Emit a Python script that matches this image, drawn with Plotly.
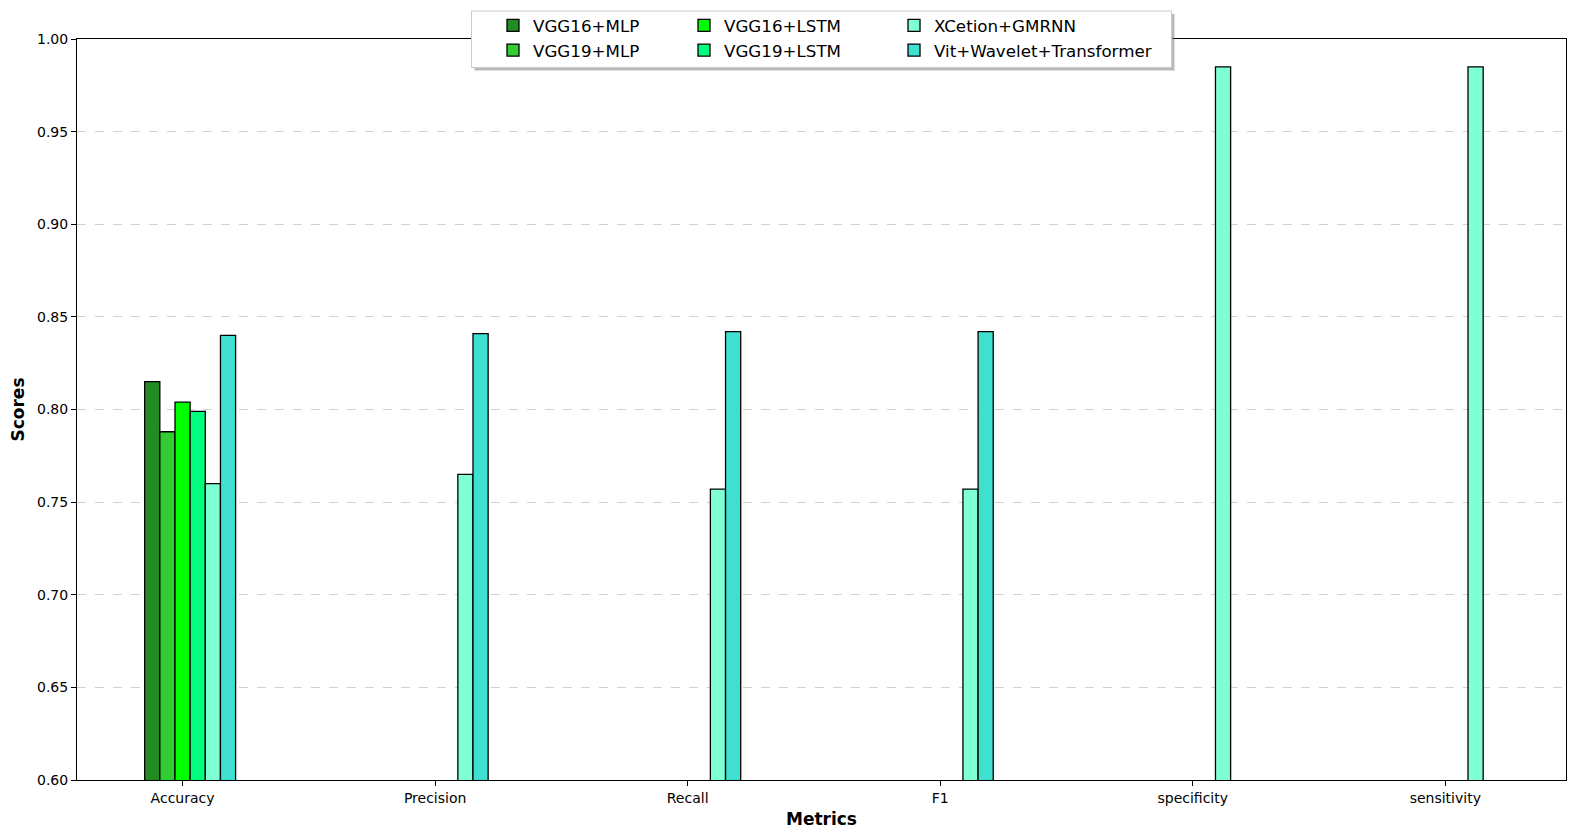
import plotly.graph_objects as go

categories = ["Accuracy", "Precision", "Recall", "F1", "specificity", "sensitivity"]
models = ["VGG16+MLP", "VGG19+MLP", "VGG16+LSTM", "VGG19+LSTM", "XCetion+GMRNN", "Vit+Wavelet+Transformer"]
vgg16_mlp = [0.815, None, None, None, None, None]
vgg19_mlp = [0.788, None, None, None, None, None]
vgg16_lstm = [0.804, None, None, None, None, None]
vgg19_lstm = [0.799, None, None, None, None, None]
xcetion_gmrnn = [0.760, 0.765, 0.757, 0.757, 0.985, 0.985]
vit_wavelet = [0.840, 0.841, 0.842, 0.842, None, None]
colors = ["#228B22", "#32CD32", "#00FF00", "#00FF7F", "#7FFFD4", "#40E0D0"]
series = [vgg16_mlp, vgg19_mlp, vgg16_lstm, vgg19_lstm, xcetion_gmrnn, vit_wavelet]

W, H = 1577, 839
ML, MR, MT, MB = 77, 11, 39, 59
PW, PH = W - ML - MR, H - MT - MB

def px2x(px):
    return (px - ML) / PW

def px2y(py):
    return (H - MB - py) / PH

FONT = "DejaVu Sans"
bar_w = 0.06

fig = go.Figure()
legend_ids = ["legend", "legend", "legend2", "legend2", "legend3", "legend3"]
for k, (name, vals, col) in enumerate(zip(models, series, colors)):
    fig.add_trace(go.Bar(
        x=categories, y=vals, name=name,
        width=bar_w, offset=(k - 2) * bar_w - bar_w / 2,
        marker=dict(color=col, line=dict(color="black", width=1.3)),
        legend=legend_ids[k],
    ))

leg_common = dict(bgcolor="rgba(0,0,0,0)", borderwidth=0, font=dict(family=FONT, size=16.7, color="black"),
                  orientation="v", yanchor="top", xanchor="left", tracegroupgap=0, itemwidth=30)
fig.update_layout(
    legend=dict(x=px2x(493), y=px2y(8), **leg_common),
    legend2=dict(x=px2x(684), y=px2y(8), **leg_common),
    legend3=dict(x=px2x(894), y=px2y(8), **leg_common),
)

# legend frame with shadow
fig.add_shape(type="rect", xref="paper", yref="paper", layer="above",
              x0=px2x(474.5), x1=px2x(1174.5), y0=px2y(70.5), y1=px2y(14),
              fillcolor="rgba(128,128,128,0.55)", line=dict(width=0))
fig.add_shape(type="rect", xref="paper", yref="paper", layer="above",
              x0=px2x(471.5), x1=px2x(1171.5), y0=px2y(67.5), y1=px2y(11),
              fillcolor="white", line=dict(color="#cccccc", width=1))

fig.update_layout(
    width=W, height=H,
    margin=dict(l=ML, r=MR, t=MT, b=MB, pad=0, autoexpand=False),
    plot_bgcolor="white", paper_bgcolor="white",
    barmode="overlay",
    font=dict(family=FONT, color="black", size=14),
    xaxis=dict(
        type="category", range=[-0.418, 5.478],
        showline=True, linecolor="black", linewidth=1, mirror=True,
        ticks="outside", ticklen=5, tickcolor="black", tickwidth=1,
        tickfont=dict(family=FONT, size=14, color="black"),
        showgrid=False,
        title=dict(text="<b>Metrics</b>", font=dict(family=FONT, size=17, color="black"), standoff=8),
    ),
    yaxis=dict(
        range=[0.6, 1.0], dtick=0.05, tick0=0.6, tickformat=".2f",
        showline=True, linecolor="black", linewidth=1, mirror=True,
        ticks="outside", ticklen=5, tickcolor="black", tickwidth=1,
        tickfont=dict(family=FONT, size=14, color="black"),
        showgrid=True, gridcolor="rgba(190,190,190,0.7)", griddash="dash", gridwidth=1,
        zeroline=False,
        title=dict(text="<b>Scores</b>", font=dict(family=FONT, size=17, color="black"), standoff=8),
    ),
)

fig.write_html("out.html", config={"displayModeBar": False},
               post_script="document.body.style.margin='0px';document.body.style.overflow='hidden';")
